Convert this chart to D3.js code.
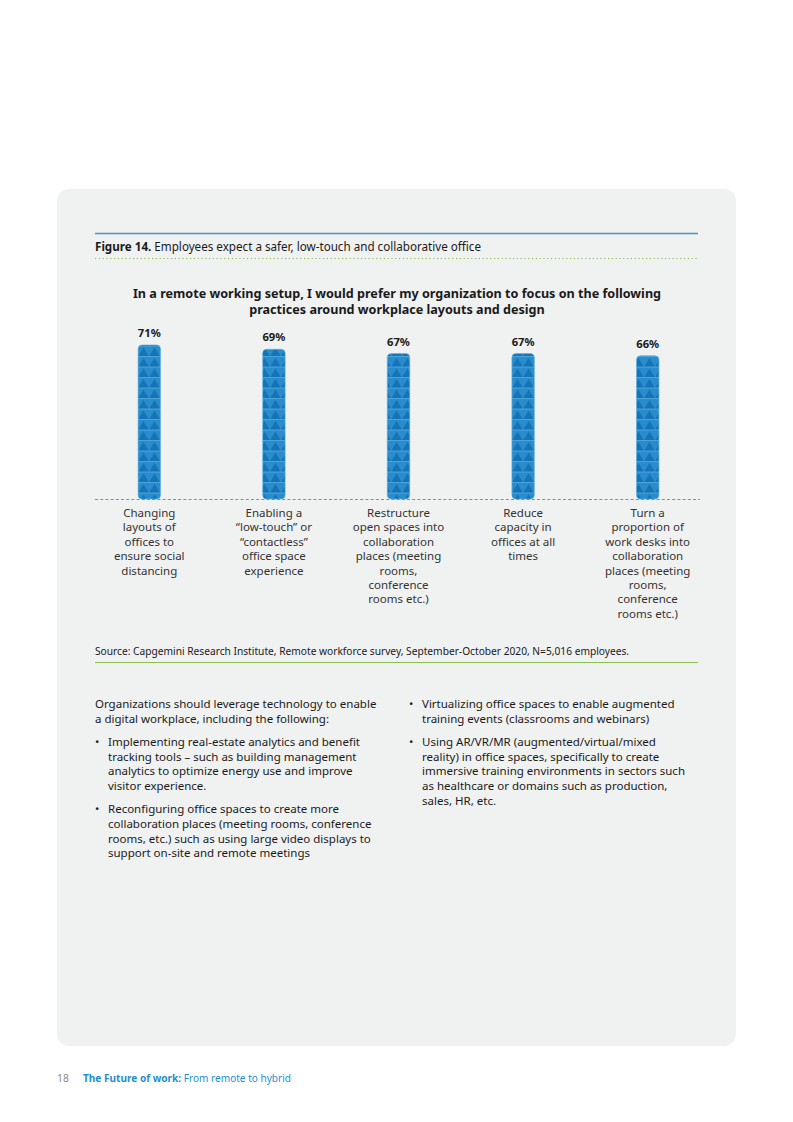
<!DOCTYPE html>
<html>
<head>
<meta charset="utf-8">
<script src="https://cdn.jsdelivr.net/npm/d3@7"></script>
<style>
  body { margin: 0; background: #fff; }
  svg { display: block; font-family: "Noto Sans", sans-serif; }
</style>
</head>
<body>
<div id="chart"></div>
<script>
// chart data
const categories = [
  ["Changing", "layouts of", "offices to", "ensure social", "distancing"],
  ["Enabling a", "\u201clow-touch\u201d or", "\u201ccontactless\u201d", "office space", "experience"],
  ["Restructure", "open spaces into", "collaboration", "places (meeting", "rooms,", "conference", "rooms etc.)"],
  ["Reduce", "capacity in", "offices at all", "times"],
  ["Turn a", "proportion of", "work desks into", "collaboration", "places (meeting", "rooms,", "conference", "rooms etc.)"]
];
const values = [71, 69, 67, 67, 66];

const titleLines = [
  "In a remote working setup, I would prefer my organization to focus on the following",
  "practices around workplace layouts and design"
];
const sourceText = "Source: Capgemini Research Institute, Remote workforce survey, September-October 2020, N=5,016 employees.";

const introLines = ["Organizations should leverage technology to enable", "a digital workplace, including the following:"];
const leftBullets = [
  ["Implementing real-estate analytics and benefit", "tracking tools \u2013 such as building management", "analytics to optimize energy use and improve", "visitor experience."],
  ["Reconfiguring office spaces to create more", "collaboration places (meeting rooms, conference", "rooms, etc.) such as using large video displays to", "support on-site and remote meetings"]
];
const rightBullets = [
  ["Virtualizing office spaces to enable augmented", "training events (classrooms and webinars)"],
  ["Using AR/VR/MR (augmented/virtual/mixed", "reality) in office spaces, specifically to create", "immersive training environments in sectors such", "as healthcare or domains such as production,", "sales, HR, etc."]
];

const W = 793, H = 1122;
const svg = d3.select("#chart").append("svg").attr("width", W).attr("height", H);

// pattern for bars
const defs = svg.append("defs");
const pat = defs.append("pattern").attr("id", "tri").attr("patternUnits", "userSpaceOnUse")
  .attr("width", 11).attr("height", 10.5).attr("x", 138).attr("y", 0);
pat.append("rect").attr("width", 11).attr("height", 10.5).attr("fill", "#2a8ccc");
pat.append("path").attr("d", "M0,10 L5.5,1 L11,10 Z").attr("fill", "#1474b8");
pat.append("rect").attr("y", 9.8).attr("width", 11).attr("height", 0.9).attr("fill", "#5fb0e0");

// panel
svg.append("rect").attr("x", 57).attr("y", 189).attr("width", 679).attr("height", 857)
  .attr("rx", 12).attr("fill", "#f0f1f1");

const left = 95, right = 698;
svg.append("line").attr("x1", left).attr("x2", right).attr("y1", 233.5).attr("y2", 233.5)
  .attr("stroke", "#3c9ad0").attr("stroke-width", 1.3);

const fig = svg.append("text").attr("x", left).attr("y", 251).attr("font-size", 11.7).attr("fill", "#1a1a1a")
  .attr("textLength", 386).attr("lengthAdjust", "spacingAndGlyphs");
fig.append("tspan").attr("font-weight", "bold").text("Figure 14.");
fig.append("tspan").text(" Employees expect a safer, low-touch and collaborative office");

svg.append("line").attr("x1", left).attr("x2", right).attr("y1", 258.5).attr("y2", 258.5)
  .attr("stroke", "#8cc152").attr("stroke-width", 1.2).attr("stroke-dasharray", "1.2,2.6");

svg.append("g").selectAll("text").data(titleLines).join("text")
  .attr("x", 397).attr("y", (d, i) => 298 + i * 16)
  .attr("text-anchor", "middle").attr("font-size", 12.6).attr("font-weight", "bold").attr("fill", "#1a1a1a")
  .text(d => d);

// scales
const baseY = 499;
const x = d3.scaleBand().domain(d3.range(values.length)).range([87, 710]).paddingInner(0.82).paddingOuter(0.41);
const y = d3.scaleLinear().domain([0, 100]).range([baseY, baseY - 217]);

const bw = x.bandwidth();
svg.append("g").selectAll("rect").data(values).join("rect")
  .attr("x", (d, i) => x(i)).attr("y", d => y(d))
  .attr("width", bw).attr("height", d => baseY - y(d))
  .attr("rx", 4).attr("fill", "url(#tri)").attr("stroke", "#5aaedd").attr("stroke-width", 0.6);

svg.append("g").selectAll("text").data(values).join("text")
  .attr("x", (d, i) => x(i) + bw / 2).attr("y", d => y(d) - 8)
  .attr("text-anchor", "middle").attr("font-size", 11.2).attr("font-weight", "bold").attr("fill", "#1a1a1a")
  .text(d => d + "%");

svg.append("line").attr("x1", left).attr("x2", 700).attr("y1", baseY + 0.5).attr("y2", baseY + 0.5)
  .attr("stroke", "#8b8aa6").attr("stroke-width", 1).attr("stroke-dasharray", "3,2.2");

const cat = svg.append("g").selectAll("text").data(categories).join("text")
  .attr("text-anchor", "middle").attr("font-size", 11.5).attr("fill", "#333");
cat.selectAll("tspan").data((d, i) => d.map(l => ({ l, i }))).join("tspan")
  .attr("x", d => x(d.i) + bw / 2).attr("y", (d, j) => 517 + j * 14.4)
  .text(d => d.l);

svg.append("text").attr("x", left).attr("y", 655).attr("font-size", 10.2).attr("fill", "#1a1a1a").text(sourceText);
svg.append("line").attr("x1", left).attr("x2", right).attr("y1", 662.5).attr("y2", 662.5)
  .attr("stroke", "#8cc152").attr("stroke-width", 1.2);

// body text
const body = svg.append("g").attr("font-size", 11.5).attr("fill", "#1a1a1a");
const lh = 14.6;
introLines.forEach((l, i) => body.append("text").attr("x", left).attr("y", 708 + i * lh).text(l));

function bullets(items, bx, startY) {
  let yy = startY;
  items.forEach(lines => {
    body.append("text").attr("x", bx).attr("y", yy).text("\u2022");
    lines.forEach((l, j) => body.append("text").attr("x", bx + 13).attr("y", yy + j * lh).text(l));
    yy += lines.length * lh + 9;
  });
}
bullets(leftBullets, left, 746);
bullets(rightBullets, 409, 708);

// footer
svg.append("text").attr("x", 57).attr("y", 1082).attr("font-size", 10.3).attr("fill", "#8a8a8a").text("18");
const ft = svg.append("text").attr("x", 83).attr("y", 1082).attr("font-size", 10.3).attr("fill", "#1f8fd0")
  .attr("textLength", 208).attr("lengthAdjust", "spacingAndGlyphs");
ft.append("tspan").attr("font-weight", "bold").text("The Future of work:");
ft.append("tspan").text(" From remote to hybrid");
</script>
</body>
</html>
